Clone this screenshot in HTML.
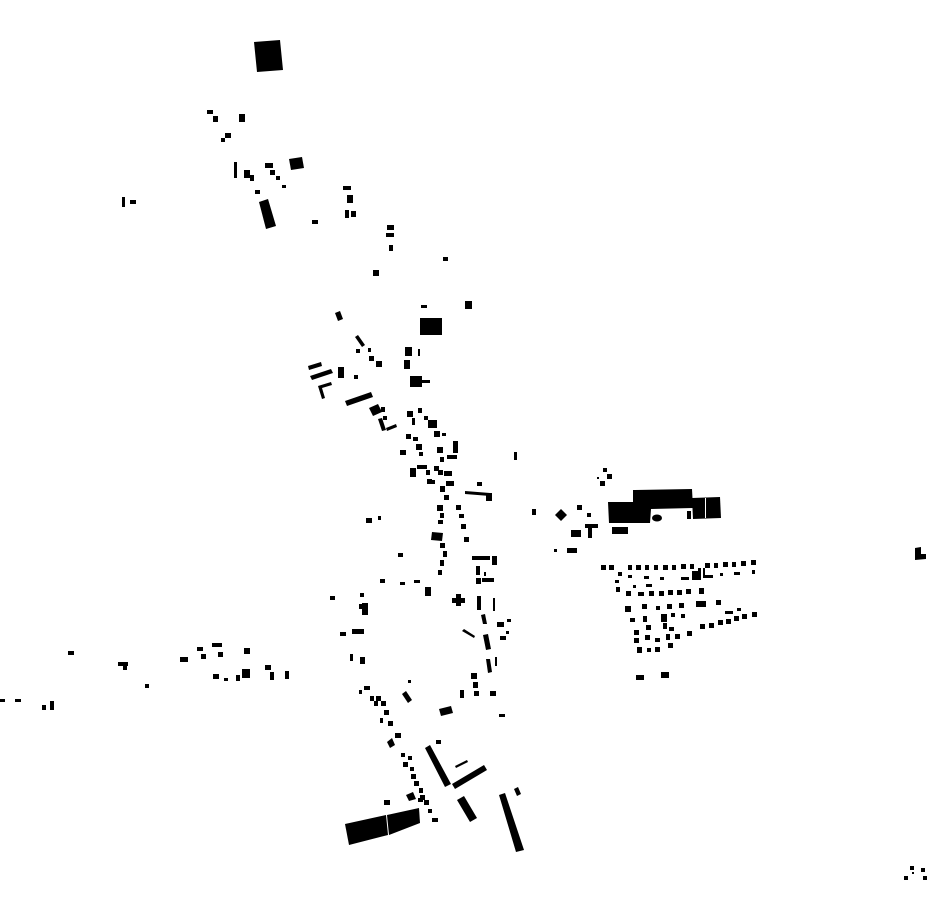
<!DOCTYPE html>
<html><head><meta charset="utf-8"><style>html,body{margin:0;padding:0;background:#fff}svg{display:block}</style></head>
<body>
<svg width="930" height="924" viewBox="0 0 930 924" xmlns="http://www.w3.org/2000/svg">
<g fill="#000">
<!-- north -->
<polygon points="254,42 280,40 283,70 257,72"/>
<rect x="207" y="110" width="6" height="4"/><rect x="213" y="116" width="5" height="6"/><rect x="239" y="114" width="6" height="8"/>
<rect x="225" y="133" width="6" height="5"/><rect x="221" y="138" width="4" height="4"/>
<rect x="234" y="162" width="3" height="16"/><rect x="244" y="170" width="6" height="8"/><rect x="250" y="175" width="4" height="6"/>
<rect x="265" y="163" width="8" height="5"/><rect x="270" y="170" width="5" height="5"/><rect x="276" y="176" width="4" height="4"/>
<rect x="282" y="185" width="4" height="3"/><rect x="255" y="190" width="5" height="4"/>
<polygon points="289,159 302,157 304,168 291,170"/>
<polygon points="259,202 268,199 276,226 266,229"/>
<rect x="312" y="220" width="6" height="4"/>
<rect x="122" y="197" width="3" height="10"/><rect x="130" y="200" width="6" height="4"/>
<rect x="343" y="186" width="8" height="4"/><rect x="347" y="195" width="6" height="8"/><rect x="345" y="210" width="4" height="8"/><rect x="351" y="211" width="5" height="6"/>
<rect x="387" y="225" width="7" height="5"/><rect x="386" y="233" width="8" height="4"/><rect x="389" y="245" width="4" height="6"/>
<rect x="443" y="257" width="5" height="4"/><rect x="373" y="270" width="6" height="6"/>
<!-- middle -->
<rect x="420" y="318" width="22" height="17"/><rect x="465" y="301" width="7" height="8"/><rect x="421" y="305" width="6" height="3"/>
<polygon points="335,313 340,311 343,319 338,321"/>
<polygon points="355,337 358,335 365,345 362,347"/>
<rect x="356" y="349" width="4" height="4"/><rect x="368" y="348" width="3" height="4"/><rect x="369" y="356" width="5" height="5"/><rect x="376" y="361" width="6" height="6"/>
<rect x="405" y="347" width="7" height="9"/><rect x="404" y="360" width="6" height="9"/><rect x="418" y="349" width="2" height="7"/>
<rect x="410" y="376" width="12" height="11"/><rect x="420" y="380" width="10" height="3"/>
<polygon points="308,366 321,362 322,366 309,370"/>
<polygon points="310,376 331,369 333,373 312,380"/>
<polygon points="318,386 331,382 332,385 322,388 325,398 322,399"/>
<rect x="338" y="367" width="6" height="11"/><rect x="354" y="375" width="4" height="4"/>
<polygon points="345,401 371,392 373,397 347,406"/>
<polygon points="369,408 378,404 382,412 373,416"/>
<rect x="381" y="407" width="4" height="5"/><rect x="383" y="416" width="4" height="4"/>
<polygon points="378,419 382,418 386,430 382,431"/><polygon points="386,428 396,424 397,427 387,431"/>
<rect x="407" y="411" width="6" height="6"/><rect x="418" y="408" width="4" height="5"/><rect x="424" y="416" width="4" height="4"/>
<rect x="428" y="420" width="9" height="8"/><rect x="434" y="431" width="6" height="6"/><rect x="442" y="433" width="4" height="3"/>
<rect x="412" y="418" width="3" height="7"/><rect x="406" y="434" width="5" height="5"/><rect x="413" y="437" width="5" height="4"/>
<rect x="400" y="450" width="6" height="5"/><rect x="416" y="444" width="6" height="6"/><rect x="419" y="452" width="4" height="4"/>
<rect x="453" y="441" width="5" height="12"/><rect x="447" y="455" width="10" height="4"/>
<rect x="437" y="447" width="6" height="6"/><rect x="440" y="457" width="4" height="5"/><rect x="434" y="466" width="5" height="5"/>
<rect x="410" y="468" width="6" height="9"/><rect x="417" y="465" width="10" height="4"/><rect x="426" y="470" width="4" height="5"/>
<rect x="427" y="479" width="5" height="5"/><rect x="444" y="471" width="8" height="5"/><rect x="446" y="481" width="8" height="5"/>
<rect x="438" y="470" width="5" height="5"/><rect x="440" y="486" width="5" height="6"/><rect x="444" y="495" width="5" height="5"/>
<rect x="431" y="480" width="4" height="4"/>
<polygon points="465,491 490,493 490,496 465,494"/><rect x="486" y="493" width="6" height="8"/><rect x="477" y="482" width="5" height="4"/>
<rect x="437" y="505" width="6" height="6"/><rect x="440" y="513" width="4" height="5"/><rect x="438" y="520" width="5" height="4"/>
<rect x="456" y="505" width="5" height="5"/><rect x="459" y="514" width="5" height="4"/><rect x="461" y="524" width="5" height="5"/><rect x="464" y="537" width="5" height="5"/>
<polygon points="432,532 443,533 442,541 431,540"/><rect x="440" y="543" width="5" height="5"/><rect x="443" y="551" width="4" height="6"/><rect x="440" y="560" width="4" height="6"/><rect x="438" y="570" width="4" height="5"/>
<rect x="366" y="518" width="6" height="5"/><rect x="378" y="516" width="3" height="4"/><rect x="398" y="553" width="5" height="4"/>
<rect x="472" y="556" width="18" height="4"/><rect x="492" y="556" width="5" height="9"/><rect x="476" y="566" width="4" height="9"/>
<rect x="482" y="578" width="12" height="4"/><rect x="476" y="578" width="5" height="6"/><rect x="484" y="572" width="2" height="4"/>
<rect x="514" y="452" width="3" height="8"/><rect x="532" y="509" width="4" height="6"/>
<!-- lower middle -->
<rect x="380" y="579" width="5" height="4"/><rect x="400" y="582" width="5" height="3"/><rect x="414" y="580" width="6" height="3"/>
<rect x="425" y="587" width="6" height="9"/><rect x="452" y="598" width="13" height="5"/><rect x="456" y="594" width="5" height="12"/>
<rect x="477" y="596" width="4" height="14"/><rect x="493" y="598" width="2" height="13"/>
<rect x="330" y="596" width="5" height="4"/><rect x="360" y="593" width="4" height="4"/><rect x="362" y="603" width="6" height="12"/><rect x="359" y="604" width="6" height="5"/>
<rect x="340" y="632" width="6" height="4"/><rect x="352" y="629" width="12" height="5"/><rect x="350" y="654" width="3" height="7"/><rect x="360" y="657" width="5" height="7"/>
<polygon points="481,615 485,614 487,624 483,624"/><rect x="497" y="622" width="7" height="5"/><rect x="507" y="619" width="4" height="3"/><rect x="506" y="631" width="3" height="3"/>
<polygon points="462,631 464,629 475,636 474,638"/>
<polygon points="483,635 488,634 491,649 486,650"/><rect x="500" y="636" width="6" height="4"/>
<polygon points="486,659 490,659 492,672 488,673"/><rect x="495" y="657" width="2" height="9"/>
<rect x="471" y="673" width="6" height="6"/><rect x="473" y="682" width="5" height="6"/><rect x="474" y="691" width="5" height="5"/>
<rect x="460" y="690" width="4" height="8"/><rect x="490" y="691" width="6" height="5"/><rect x="499" y="714" width="6" height="3"/>
<rect x="408" y="680" width="3" height="3"/><polygon points="402,694 406,691 412,700 408,703"/>
<polygon points="439,709 451,706 453,713 441,716"/>
<rect x="364" y="686" width="6" height="4"/><rect x="359" y="690" width="3" height="4"/>
<rect x="370" y="696" width="4" height="5"/><rect x="374" y="701" width="4" height="5"/><rect x="376" y="696" width="5" height="5"/>
<rect x="381" y="701" width="5" height="5"/><rect x="384" y="710" width="5" height="5"/><rect x="380" y="718" width="3" height="5"/>
<rect x="388" y="721" width="5" height="5"/><rect x="395" y="733" width="6" height="5"/><polygon points="387,742 392,738 395,745 390,748"/>
<rect x="436" y="740" width="5" height="4"/>
<rect x="401" y="753" width="4" height="4"/><rect x="408" y="756" width="4" height="4"/><rect x="403" y="762" width="5" height="5"/>
<rect x="410" y="767" width="4" height="4"/><rect x="411" y="774" width="5" height="5"/><rect x="414" y="781" width="5" height="5"/>
<rect x="419" y="788" width="4" height="5"/><rect x="418" y="798" width="5" height="4"/><rect x="424" y="800" width="5" height="5"/>
<rect x="428" y="809" width="4" height="4"/><rect x="432" y="818" width="6" height="4"/><rect x="384" y="800" width="6" height="5"/>
<polygon points="406,795 413,792 416,799 409,801"/><rect x="420" y="795" width="5" height="5"/>
<polygon points="425,748 430,745 451,784 445,787"/>
<polygon points="452,784 484,765 487,770 455,789"/>
<polygon points="455,766 467,760 468,762 456,768"/>
<polygon points="457,800 464,796 477,818 470,822"/>
<polygon points="499,795 505,793 524,850 516,852"/>
<polygon points="514,789 518,787 521,794 517,796"/>
<polygon points="345,824 386,815 388,835 349,845"/>
<polygon points="387,815 419,808 420,823 389,835"/>
<!-- factory -->
<polygon points="608,502 633,502 633,490 692,489 693,508 651,509 650,523 609,523"/>
<polygon points="692,498 720,497 721,518 693,519"/>
<rect x="705" y="498" width="1" height="20" fill="#fff"/>
<ellipse cx="657" cy="518" rx="5" ry="3.5"/>
<rect x="687" y="511" width="4" height="8"/><rect x="612" y="527" width="16" height="7"/>
<rect x="571" y="530" width="10" height="7"/><rect x="588" y="526" width="4" height="12"/><rect x="585" y="524" width="13" height="4"/>
<polygon points="561,509 567,515 561,521 555,515"/><rect x="577" y="505" width="5" height="5"/><rect x="587" y="513" width="4" height="4"/>
<rect x="603" y="468" width="4" height="4"/><rect x="607" y="474" width="5" height="5"/><rect x="600" y="481" width="5" height="5"/><rect x="597" y="477" width="2" height="2"/>
<rect x="554" y="549" width="3" height="3"/><rect x="567" y="548" width="10" height="5"/>
<!-- housing grid -->
<rect x="601" y="565" width="5" height="5"/><rect x="609" y="565" width="5" height="5"/>
<rect x="628" y="565" width="4" height="5"/><rect x="636" y="565" width="5" height="5"/><rect x="645" y="565" width="4" height="5"/><rect x="654" y="565" width="4" height="5"/><rect x="663" y="565" width="5" height="5"/><rect x="672" y="565" width="4" height="5"/><rect x="681" y="564" width="5" height="5"/><rect x="690" y="564" width="4" height="5"/>
<rect x="705" y="563" width="5" height="5"/><rect x="714" y="563" width="4" height="5"/><rect x="723" y="562" width="5" height="5"/><rect x="732" y="562" width="4" height="5"/><rect x="741" y="561" width="5" height="5"/><rect x="751" y="560" width="5" height="5"/>
<rect x="618" y="572" width="4" height="4"/><rect x="628" y="575" width="4" height="3"/><rect x="644" y="576" width="5" height="3"/><rect x="660" y="577" width="4" height="3"/>
<rect x="681" y="577" width="8" height="3"/><rect x="692" y="571" width="6" height="9"/><rect x="698" y="568" width="3" height="12"/><rect x="703" y="568" width="2" height="10"/>
<rect x="705" y="575" width="8" height="3"/><rect x="720" y="573" width="3" height="3"/><rect x="734" y="572" width="6" height="3"/><rect x="752" y="570" width="3" height="4"/>
<rect x="615" y="580" width="4" height="3"/><rect x="616" y="587" width="4" height="5"/><rect x="633" y="585" width="3" height="3"/><rect x="646" y="584" width="6" height="3"/>
<rect x="626" y="591" width="5" height="5"/><rect x="638" y="592" width="6" height="4"/><rect x="649" y="591" width="5" height="5"/><rect x="659" y="591" width="5" height="5"/><rect x="668" y="590" width="5" height="5"/><rect x="677" y="590" width="5" height="5"/><rect x="686" y="589" width="5" height="5"/><rect x="699" y="588" width="5" height="6"/>
<rect x="625" y="606" width="6" height="6"/><rect x="642" y="604" width="5" height="5"/><rect x="656" y="606" width="4" height="4"/><rect x="667" y="604" width="5" height="5"/>
<rect x="679" y="603" width="5" height="5"/><rect x="696" y="601" width="10" height="6"/><rect x="716" y="600" width="5" height="5"/>
<rect x="630" y="618" width="5" height="4"/><rect x="643" y="616" width="4" height="6"/><rect x="661" y="614" width="6" height="8"/><rect x="671" y="613" width="4" height="4"/><rect x="681" y="614" width="4" height="4"/>
<rect x="634" y="630" width="5" height="5"/><rect x="646" y="625" width="5" height="5"/><rect x="663" y="623" width="4" height="6"/><rect x="669" y="627" width="5" height="4"/><rect x="687" y="631" width="5" height="5"/>
<rect x="700" y="624" width="5" height="5"/><rect x="709" y="623" width="5" height="5"/><rect x="718" y="620" width="5" height="5"/><rect x="726" y="619" width="5" height="5"/><rect x="734" y="616" width="5" height="5"/><rect x="742" y="614" width="5" height="5"/><rect x="752" y="612" width="5" height="5"/>
<rect x="725" y="611" width="8" height="3"/><rect x="737" y="608" width="4" height="3"/>
<rect x="634" y="638" width="5" height="5"/><rect x="645" y="635" width="5" height="5"/><rect x="655" y="638" width="5" height="4"/><rect x="666" y="634" width="4" height="6"/><rect x="675" y="634" width="5" height="5"/>
<rect x="637" y="647" width="5" height="6"/><rect x="647" y="648" width="4" height="4"/><rect x="655" y="647" width="5" height="5"/><rect x="668" y="643" width="5" height="5"/>
<rect x="636" y="675" width="8" height="5"/><rect x="661" y="672" width="8" height="6"/>
<!-- far right -->
<polygon points="915,548 921,547 921,554 926,554 926,559 915,560"/>
<rect x="904" y="876" width="4" height="4"/><rect x="910" y="866" width="4" height="4"/><rect x="921" y="868" width="4" height="4"/><rect x="923" y="876" width="4" height="4"/><rect x="912" y="872" width="2" height="2"/>
<!-- west -->
<rect x="68" y="651" width="6" height="4"/><rect x="118" y="662" width="10" height="4"/><rect x="123" y="666" width="4" height="4"/><rect x="145" y="684" width="4" height="4"/>
<rect x="180" y="657" width="8" height="5"/><rect x="197" y="647" width="6" height="4"/><rect x="201" y="654" width="5" height="5"/><rect x="212" y="643" width="10" height="4"/><rect x="218" y="652" width="5" height="5"/>
<rect x="244" y="648" width="6" height="6"/><rect x="213" y="674" width="6" height="5"/><rect x="224" y="678" width="4" height="3"/><rect x="236" y="675" width="4" height="6"/><rect x="242" y="669" width="8" height="9"/>
<rect x="265" y="665" width="6" height="5"/><rect x="270" y="672" width="4" height="8"/><rect x="285" y="671" width="4" height="8"/>
<rect x="0" y="699" width="5" height="3"/><rect x="15" y="699" width="6" height="3"/><rect x="42" y="705" width="4" height="5"/><rect x="50" y="701" width="4" height="9"/>
</g>
</svg>
</body></html>
